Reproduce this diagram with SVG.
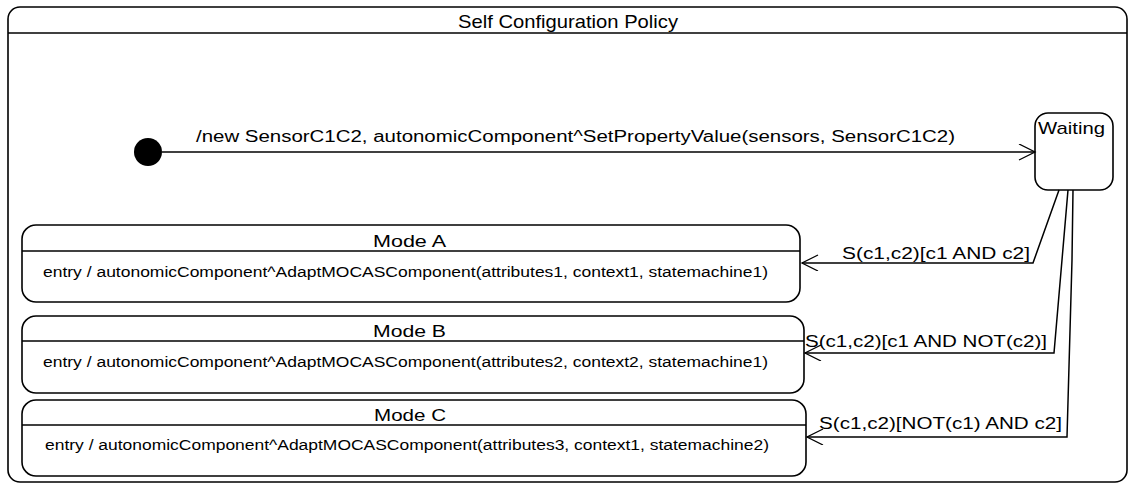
<svg xmlns="http://www.w3.org/2000/svg" width="1130" height="485" viewBox="0 0 1130 485">
<style>
.box{fill:#fff;stroke:#000;stroke-width:1.6}
.ln{fill:none;stroke:#000;stroke-width:1.5}
.t{font-family:"Liberation Sans",Arial,sans-serif;fill:#000}
.title{font-size:19px}
.lbl{font-size:16px}
.ent{font-size:14px}
.mode{font-size:17px}
</style>
<defs>
<marker id="open" markerWidth="20" markerHeight="20" refX="17" refY="8" orient="auto" markerUnits="userSpaceOnUse">
<path d="M1,0 L17,8 L1,16" fill="none" stroke="#000" stroke-width="1.3"/>
</marker>
</defs>
<rect width="1130" height="485" fill="#fff"/>
<g id="frame">
<rect class="box" x="8" y="7" width="1119" height="475" rx="12"/>
<line class="ln" x1="8" y1="33" x2="1127" y2="33"/>
<text class="t title" x="458" y="28" textLength="220" lengthAdjust="spacingAndGlyphs">Self Configuration Policy</text>
</g>
<g id="initial">
<circle cx="148" cy="152" r="14" fill="#000"/>
</g>
<g id="waiting">
<rect class="box" x="1035" y="113" width="78" height="77" rx="13"/>
<text class="t mode" x="1038" y="134" textLength="67" lengthAdjust="spacingAndGlyphs">Waiting</text>
</g>
<g id="modeA">
<rect class="box" x="22" y="225" width="778" height="77" rx="14"/>
<line class="ln" x1="22" y1="251" x2="800" y2="251"/>
<text class="t mode" x="373" y="247" textLength="73" lengthAdjust="spacingAndGlyphs">Mode A</text>
<text class="t ent" x="43" y="277" textLength="725" lengthAdjust="spacingAndGlyphs">entry / autonomicComponent^AdaptMOCASComponent(attributes1, context1, statemachine1)</text>
</g>
<g id="modeB">
<rect class="box" x="22" y="316" width="782" height="77" rx="14"/>
<line class="ln" x1="22" y1="341" x2="804" y2="341"/>
<text class="t mode" x="373" y="337" textLength="73" lengthAdjust="spacingAndGlyphs">Mode B</text>
<text class="t ent" x="43" y="367" textLength="725" lengthAdjust="spacingAndGlyphs">entry / autonomicComponent^AdaptMOCASComponent(attributes2, context2, statemachine1)</text>
</g>
<g id="modeC">
<rect class="box" x="22" y="400" width="784" height="76" rx="14"/>
<line class="ln" x1="22" y1="425" x2="806" y2="425"/>
<text class="t mode" x="374" y="421" textLength="72" lengthAdjust="spacingAndGlyphs">Mode C</text>
<text class="t ent" x="45" y="450" textLength="724" lengthAdjust="spacingAndGlyphs">entry / autonomicComponent^AdaptMOCASComponent(attributes3, context1, statemachine2)</text>
</g>
<g id="connectors">
<path class="ln" d="M162,152 L1035,152" marker-end="url(#open)"/>
<text class="t lbl" x="196" y="142" textLength="759" lengthAdjust="spacingAndGlyphs">/new SensorC1C2, autonomicComponent^SetPropertyValue(sensors, SensorC1C2)</text>
<path class="ln" d="M1059,190 L1033,263 L802,263" marker-end="url(#open)"/>
<text class="t lbl" x="842" y="259" textLength="188" lengthAdjust="spacingAndGlyphs">S(c1,c2)[c1 AND c2]</text>
<path class="ln" d="M1068,190 L1054,353 L805,353" marker-end="url(#open)"/>
<text class="t lbl" x="805" y="347" textLength="242" lengthAdjust="spacingAndGlyphs">S(c1,c2)[c1 AND NOT(c2)]</text>
<path class="ln" d="M1073,190 L1072,260 L1067,437 L807,437" marker-end="url(#open)"/>
<text class="t lbl" x="819" y="429" textLength="243" lengthAdjust="spacingAndGlyphs">S(c1,c2)[NOT(c1) AND c2]</text>
</g>
</svg>
